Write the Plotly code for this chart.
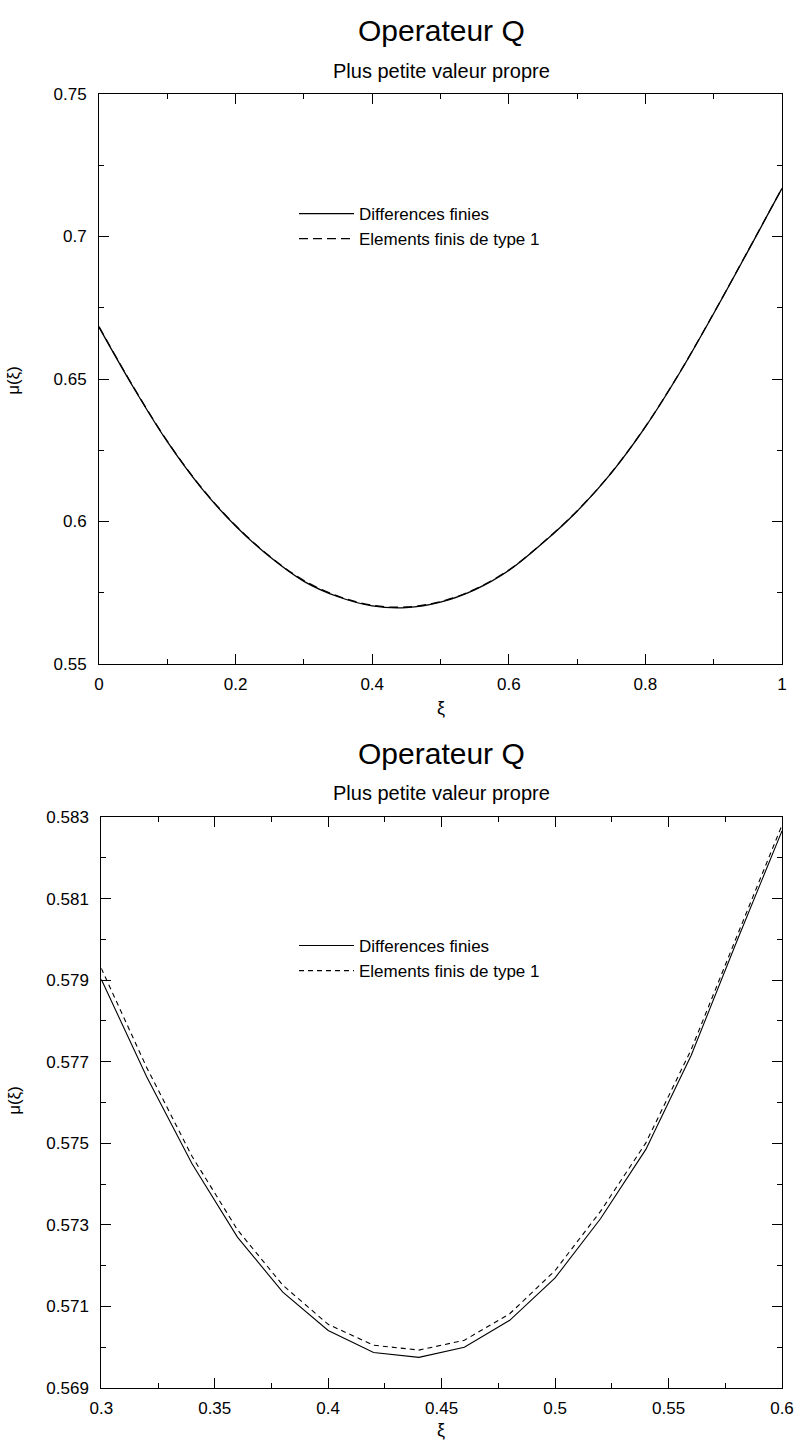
import plotly.graph_objects as go

# ---------------- data ----------------
# Top panel: full range 0..1
xi_full = [0.00, 0.05, 0.10, 0.15, 0.20, 0.25, 0.30, 0.35, 0.40, 0.45, 0.50,
           0.55, 0.60, 0.65, 0.70, 0.75, 0.80, 0.85, 0.90, 0.95, 1.00]
mu_df_full = [0.6682, 0.6472, 0.6280, 0.6117, 0.5984, 0.5876, 0.5790, 0.5736, 0.5704, 0.5698, 0.5717,
              0.5760, 0.5828, 0.5925, 0.6036, 0.6170, 0.6332, 0.6521, 0.6730, 0.6948, 0.7169]
mu_ef_full = [0.6684, 0.6474, 0.6282, 0.6119, 0.5986, 0.5878, 0.5793, 0.5738, 0.5706, 0.5700, 0.5719,
              0.5762, 0.5830, 0.5926, 0.6037, 0.6171, 0.6333, 0.6522, 0.6731, 0.6949, 0.7170]

# Bottom panel: zoom 0.3..0.6
xi_zoom = [0.30, 0.32, 0.34, 0.36, 0.38, 0.40, 0.42, 0.44, 0.46, 0.48, 0.50,
           0.52, 0.54, 0.56, 0.58, 0.60]
mu_df_zoom = [0.57902, 0.57663, 0.57450, 0.57270, 0.57135, 0.57041, 0.56987, 0.56975, 0.57000, 0.57066, 0.57170,
              0.57315, 0.57485, 0.57716, 0.57994, 0.58266]
mu_ef_zoom = [0.57929, 0.57686, 0.57468, 0.57288, 0.57152, 0.57056, 0.57005, 0.56993, 0.57017, 0.57082, 0.57188,
              0.57333, 0.57501, 0.57730, 0.58006, 0.58280]

name_df = "Differences finies"
name_ef = "Elements finis de type 1"
title = "Operateur Q"
subtitle = "Plus petite valeur propre"

FONT = "Liberation Sans, Arial, Helvetica, sans-serif"

fig = go.Figure()
fig.add_trace(go.Scatter(x=xi_full, y=mu_df_full, mode="lines", name=name_df,
                         line=dict(color="black", width=1.3, shape="spline", smoothing=1.0),
                         xaxis="x", yaxis="y", legend="legend"))
fig.add_trace(go.Scatter(x=xi_full, y=mu_ef_full, mode="lines", name=name_ef,
                         line=dict(color="black", width=1.3, dash="9px,5px", shape="spline", smoothing=1.0),
                         xaxis="x", yaxis="y", legend="legend"))
fig.add_trace(go.Scatter(x=xi_zoom, y=mu_df_zoom, mode="lines", name=name_df,
                         line=dict(color="black", width=1.1),
                         xaxis="x2", yaxis="y2", legend="legend2"))
fig.add_trace(go.Scatter(x=xi_zoom, y=mu_ef_zoom, mode="lines", name=name_ef,
                         line=dict(color="black", width=1.1, dash="5px,4px"),
                         xaxis="x2", yaxis="y2", legend="legend2"))

L, R, T, B = 99, 17, 94, 57
W, H = 806, 1445
PH = H - T - B
PW = W - L - R

def py(Y):
    return (H - B - Y) / PH

def px(X):
    return (X - L) / PW

axis_common = dict(showgrid=False, zeroline=False, showline=True, linecolor="black",
                   linewidth=1, mirror="allticks", ticks="inside", ticklen=10,
                   tickcolor="black", tickwidth=1,
                   tickfont=dict(family=FONT, size=17, color="black"))

fig.update_layout(
    width=W, height=H,
    margin=dict(l=L, r=R, t=T, b=B),
    paper_bgcolor="white", plot_bgcolor="white",
    font=dict(family=FONT, color="black"),
    xaxis=dict(domain=[0, 1], range=[0, 1], tick0=0, dtick=0.2, anchor="y",
               ticklabelstandoff=5,
               minor=dict(dtick=0.1, ticklen=5, ticks="inside", tickcolor="black"),
               **axis_common),
    yaxis=dict(domain=[py(664), 1], range=[0.55, 0.75], tick0=0.55, dtick=0.05, anchor="x",
               ticklabelstandoff=8,
               minor=dict(dtick=0.025, ticklen=5, ticks="inside", tickcolor="black"),
               **axis_common),
    xaxis2=dict(domain=[px(101.3), 1], range=[0.3, 0.6], tick0=0.3, dtick=0.05, anchor="y2",
                ticklabelstandoff=5,
                minor=dict(dtick=0.025, ticklen=5, ticks="inside", tickcolor="black"),
                **axis_common),
    yaxis2=dict(domain=[0, py(817)], range=[0.569, 0.583], tick0=0.569, dtick=0.002, anchor="x2",
                tickformat=".3f", ticklabelstandoff=8,
                minor=dict(dtick=0.001, ticklen=5, ticks="inside", tickcolor="black"),
                **axis_common),
    legend=dict(x=px(296), y=py(196), xanchor="left", yanchor="top",
                bgcolor="rgba(0,0,0,0)", itemwidth=55,
                font=dict(family=FONT, size=17, color="black")),
    legend2=dict(x=px(296), y=py(928), xanchor="left", yanchor="top",
                 bgcolor="rgba(0,0,0,0)", itemwidth=55,
                 font=dict(family=FONT, size=17, color="black")),
    showlegend=True,
)

ann = []
def text(x, y, s, size, angle=0):
    ann.append(dict(x=x, y=y, xref="paper", yref="paper", text=s, showarrow=False,
                    xanchor="center", yanchor="middle", textangle=angle,
                    font=dict(family=FONT, size=size, color="black")))

text(px(445), py(31), title, 30)
text(px(445), py(71), subtitle, 20)
text(px(445), py(708), "ξ", 18)
text(px(13), py(380), "μ(ξ)", 17, -90)
text(px(445), py(753), title, 30)
text(px(445), py(793), subtitle, 20)
text(px(445), py(1430), "ξ", 18)
text(px(13), py(1100), "μ(ξ)", 17, -90)
fig.update_layout(annotations=ann)

fig.write_html("out.html")
